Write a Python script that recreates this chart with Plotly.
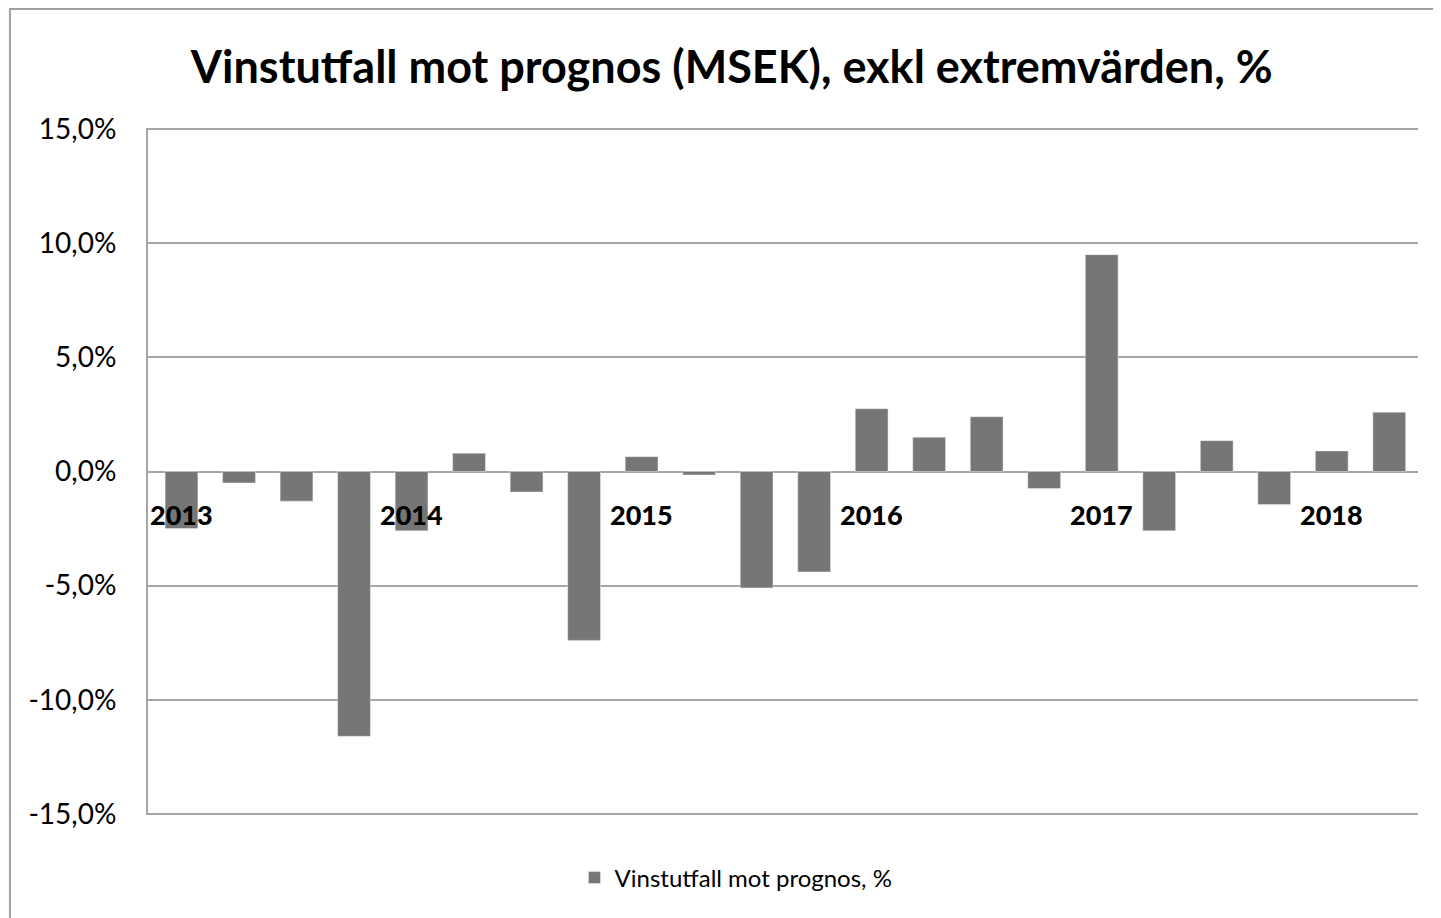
import plotly.graph_objects as go

quarters = [f"{y} Q{q}" for y in range(2013, 2019) for q in range(1, 5)][:22]
values = [-2.5, -0.5, -1.3, -11.6, -2.6, 0.8, -0.9, -7.4, 0.65, -0.15, -5.1,
          -4.4, 2.75, 1.5, 2.4, -0.75, 9.5, -2.6, 1.35, -1.45, 0.9, 2.6]
year_labels = ["2013", "2014", "2015", "2016", "2017", "2018"]
year_pos = [quarters[i] for i in range(0, 22, 4)]
tick_vals = [-15, -10, -5, 0, 5, 10, 15]
tick_text = ["-15,0%", "-10,0%", "-5,0%", "0,0%", "5,0%", "10,0%", "15,0%"]

font = "Lato, Open Sans, sans-serif"
bar_color = "#767676"
grid = "#a6a6a6"

fig = go.Figure()
fig.add_trace(go.Bar(x=quarters, y=values, marker_color=bar_color,
                     name="Vinstutfall mot prognos, %"))

for lbl, pos in zip(year_labels, year_pos):
    fig.add_annotation(x=pos, y=0, xref="x", yref="y", text=lbl,
                       showarrow=False, yanchor="top", yshift=-24,
                       font=dict(family=font, size=27, color="black", weight=900))

# outer chart border
fig.add_shape(type="rect", xref="paper", yref="paper",
              x0=-0.1087, x1=1.05, y0=-0.2, y1=1.1732,
              line=dict(color="#a0a0a0", width=2), layer="below")

fig.update_layout(
    width=1433, height=910,
    margin=dict(l=140, r=23, t=120, b=103),
    paper_bgcolor="white", plot_bgcolor="white",
    bargap=0.43,
    title=dict(text="<b>Vinstutfall mot prognos (MSEK), exkl extremvärden, %</b>",
               x=0.505, xanchor="center", y=0.935, yanchor="middle",
               font=dict(family=font, size=45, color="black")),
    showlegend=True,
    legend=dict(orientation="h", x=0.463, xanchor="center", y=-0.0917, yanchor="middle",
                font=dict(family=font, size=24, color="black")),
    xaxis=dict(showticklabels=False, showgrid=False, zeroline=False, showline=False,
               ticks=""),
    yaxis=dict(range=[-15.05, 15.05], tickvals=tick_vals, ticktext=tick_text,
               showgrid=True, gridcolor=grid, gridwidth=2,
               zeroline=True, zerolinecolor=grid, zerolinewidth=2,
               showline=True, linecolor=grid, linewidth=2,
               ticks="", ticklabelstandoff=24,
               tickfont=dict(family=font, size=28, color="black")),
)

fig.write_html("out.html")
